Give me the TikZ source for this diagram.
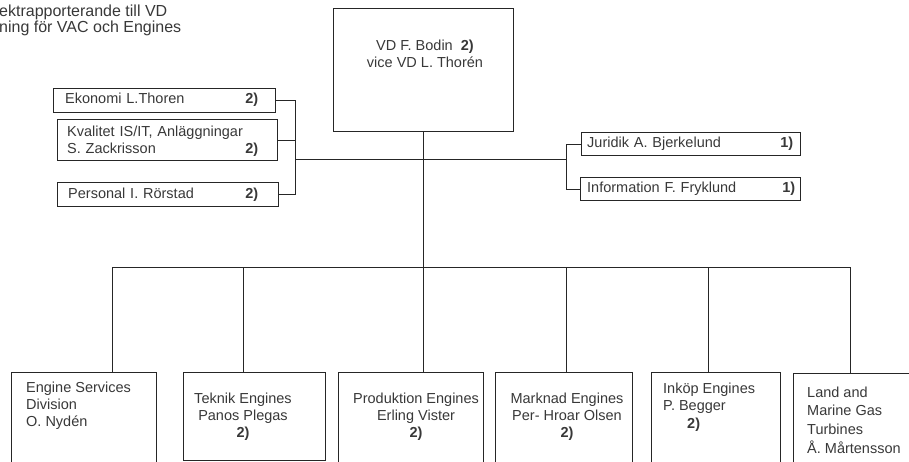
\documentclass[tikz,border=0pt]{standalone}
\usepackage{fontspec}
\setmainfont{Liberation Sans}
\usetikzlibrary{calc}
\begin{document}
\begin{tikzpicture}[x=1pt,y=-1pt,
  box/.style={draw=black!85, line width=1pt, inner sep=0pt, anchor=north west},
  conn/.style={draw=black!85, line width=1pt},
  txt/.style={inner sep=0pt, text=black!78, font=\fontsize{14.5}{17}\selectfont},
  lt/.style={txt, anchor=west, align=left},
  ct/.style={txt, anchor=center, align=center}]
\clip (0,0) rectangle (909,461);
% header text
\node[lt, font=\fontsize{16}{16}\selectfont] (hdr) at (-1,20) {ektrapporterande till VD\\ning för VAC och Engines};
% VD
\node[box, minimum width=180, minimum height=123] (vd) at (333,8) {};
\node[ct] (vdt) at (425,54) {VD F. Bodin \ \textbf{2)}\\vice VD L. Thorén};
% staff left
\node[box, minimum width=222, minimum height=24] (ek) at (53,88) {};
\node[lt, text width=193] (ekt) at (65,100) {Ekonomi L.Thoren\hfill\textbf{2)}};
\node[box, minimum width=220, minimum height=41] (kv) at (57,119) {};
\node[lt, text width=191] (kvt) at (67,141) {Kvalitet IS/IT, Anläggningar\\S. Zackrisson\hfill\textbf{2)}};
\node[box, minimum width=221, minimum height=24] (pe) at (57,182) {};
\node[lt, text width=190] (pet) at (68,195) {Personal I. Rörstad\hfill\textbf{2)}};
% staff right
\node[box, minimum width=219, minimum height=23] (ju) at (581,132) {};
\node[lt, text width=206] (jut) at (587,144) {Juridik A. Bjerkelund\hfill\textbf{1)}};
\node[box, minimum width=220, minimum height=23] (in) at (580,177) {};
\node[lt, text width=208] (int) at (587,189) {Information F. Fryklund\hfill\textbf{1)}};
% line units
\node[box, minimum width=145, minimum height=120] (es) at (11,372) {};
\node[lt] (est) at (26,406) {Engine Services\\Division\\O. Nydén};
\node[box, minimum width=142, minimum height=88] (tk) at (183,372) {};
\node[ct] (tkt) at (243,417) {Teknik Engines\\Panos Plegas\\\textbf{2)}};
\node[box, minimum width=145, minimum height=120] (pr) at (338,372) {};
\node[ct] (prt) at (416,417) {Produktion Engines\\Erling Vister\\\textbf{2)}};
\node[box, minimum width=137, minimum height=120] (ma) at (495,372) {};
\node[ct] (mat) at (567,417) {Marknad Engines\\Per- Hroar Olsen\\\textbf{2)}};
\node[box, minimum width=129, minimum height=120] (ik) at (651,372) {};
\node[lt, font=\fontsize{14.5}{17.5}\selectfont] (ikt) at (663,407) {Inköp Engines\\P. Begger\\\hspace*{24pt}\textbf{2)}};
\node[box, minimum width=140, minimum height=120] (la) at (793,373) {};
\node[lt, font=\fontsize{14.5}{18.7}\selectfont] (lat) at (807,420) {Land and\\Marine Gas\\Turbines\\Å. Mårtensson};
% connectors
\coordinate (lb) at (295,159);
\coordinate (rb) at (566,159);
\coordinate (bl) at (112,267);
\coordinate (br) at (850,267);
\draw[conn] (vd.south) -- (pr.north -| vd.south);
\draw[conn] (lb) -- (rb);
\draw[conn] (ek.east) -- (ek.east -| lb) -- (pe.east -| lb) -- (pe.east);
\draw[conn] (kv.east) -- (kv.east -| lb);
\draw[conn] (ju.west) -- (ju.west -| rb) -- (in.west -| rb) -- (in.west);
\draw[conn] (bl) -- (br);
\draw[conn] (bl) -- (bl |- es.north);
\draw[conn] (243,267) -- (243,372 |- tk.north);
\draw[conn] (566,267) -- (566,372 |- ma.north);
\draw[conn] (708,267) -- (708,372 |- ik.north);
\draw[conn] (br) -- (br |- la.north);
\end{tikzpicture}
\end{document}
